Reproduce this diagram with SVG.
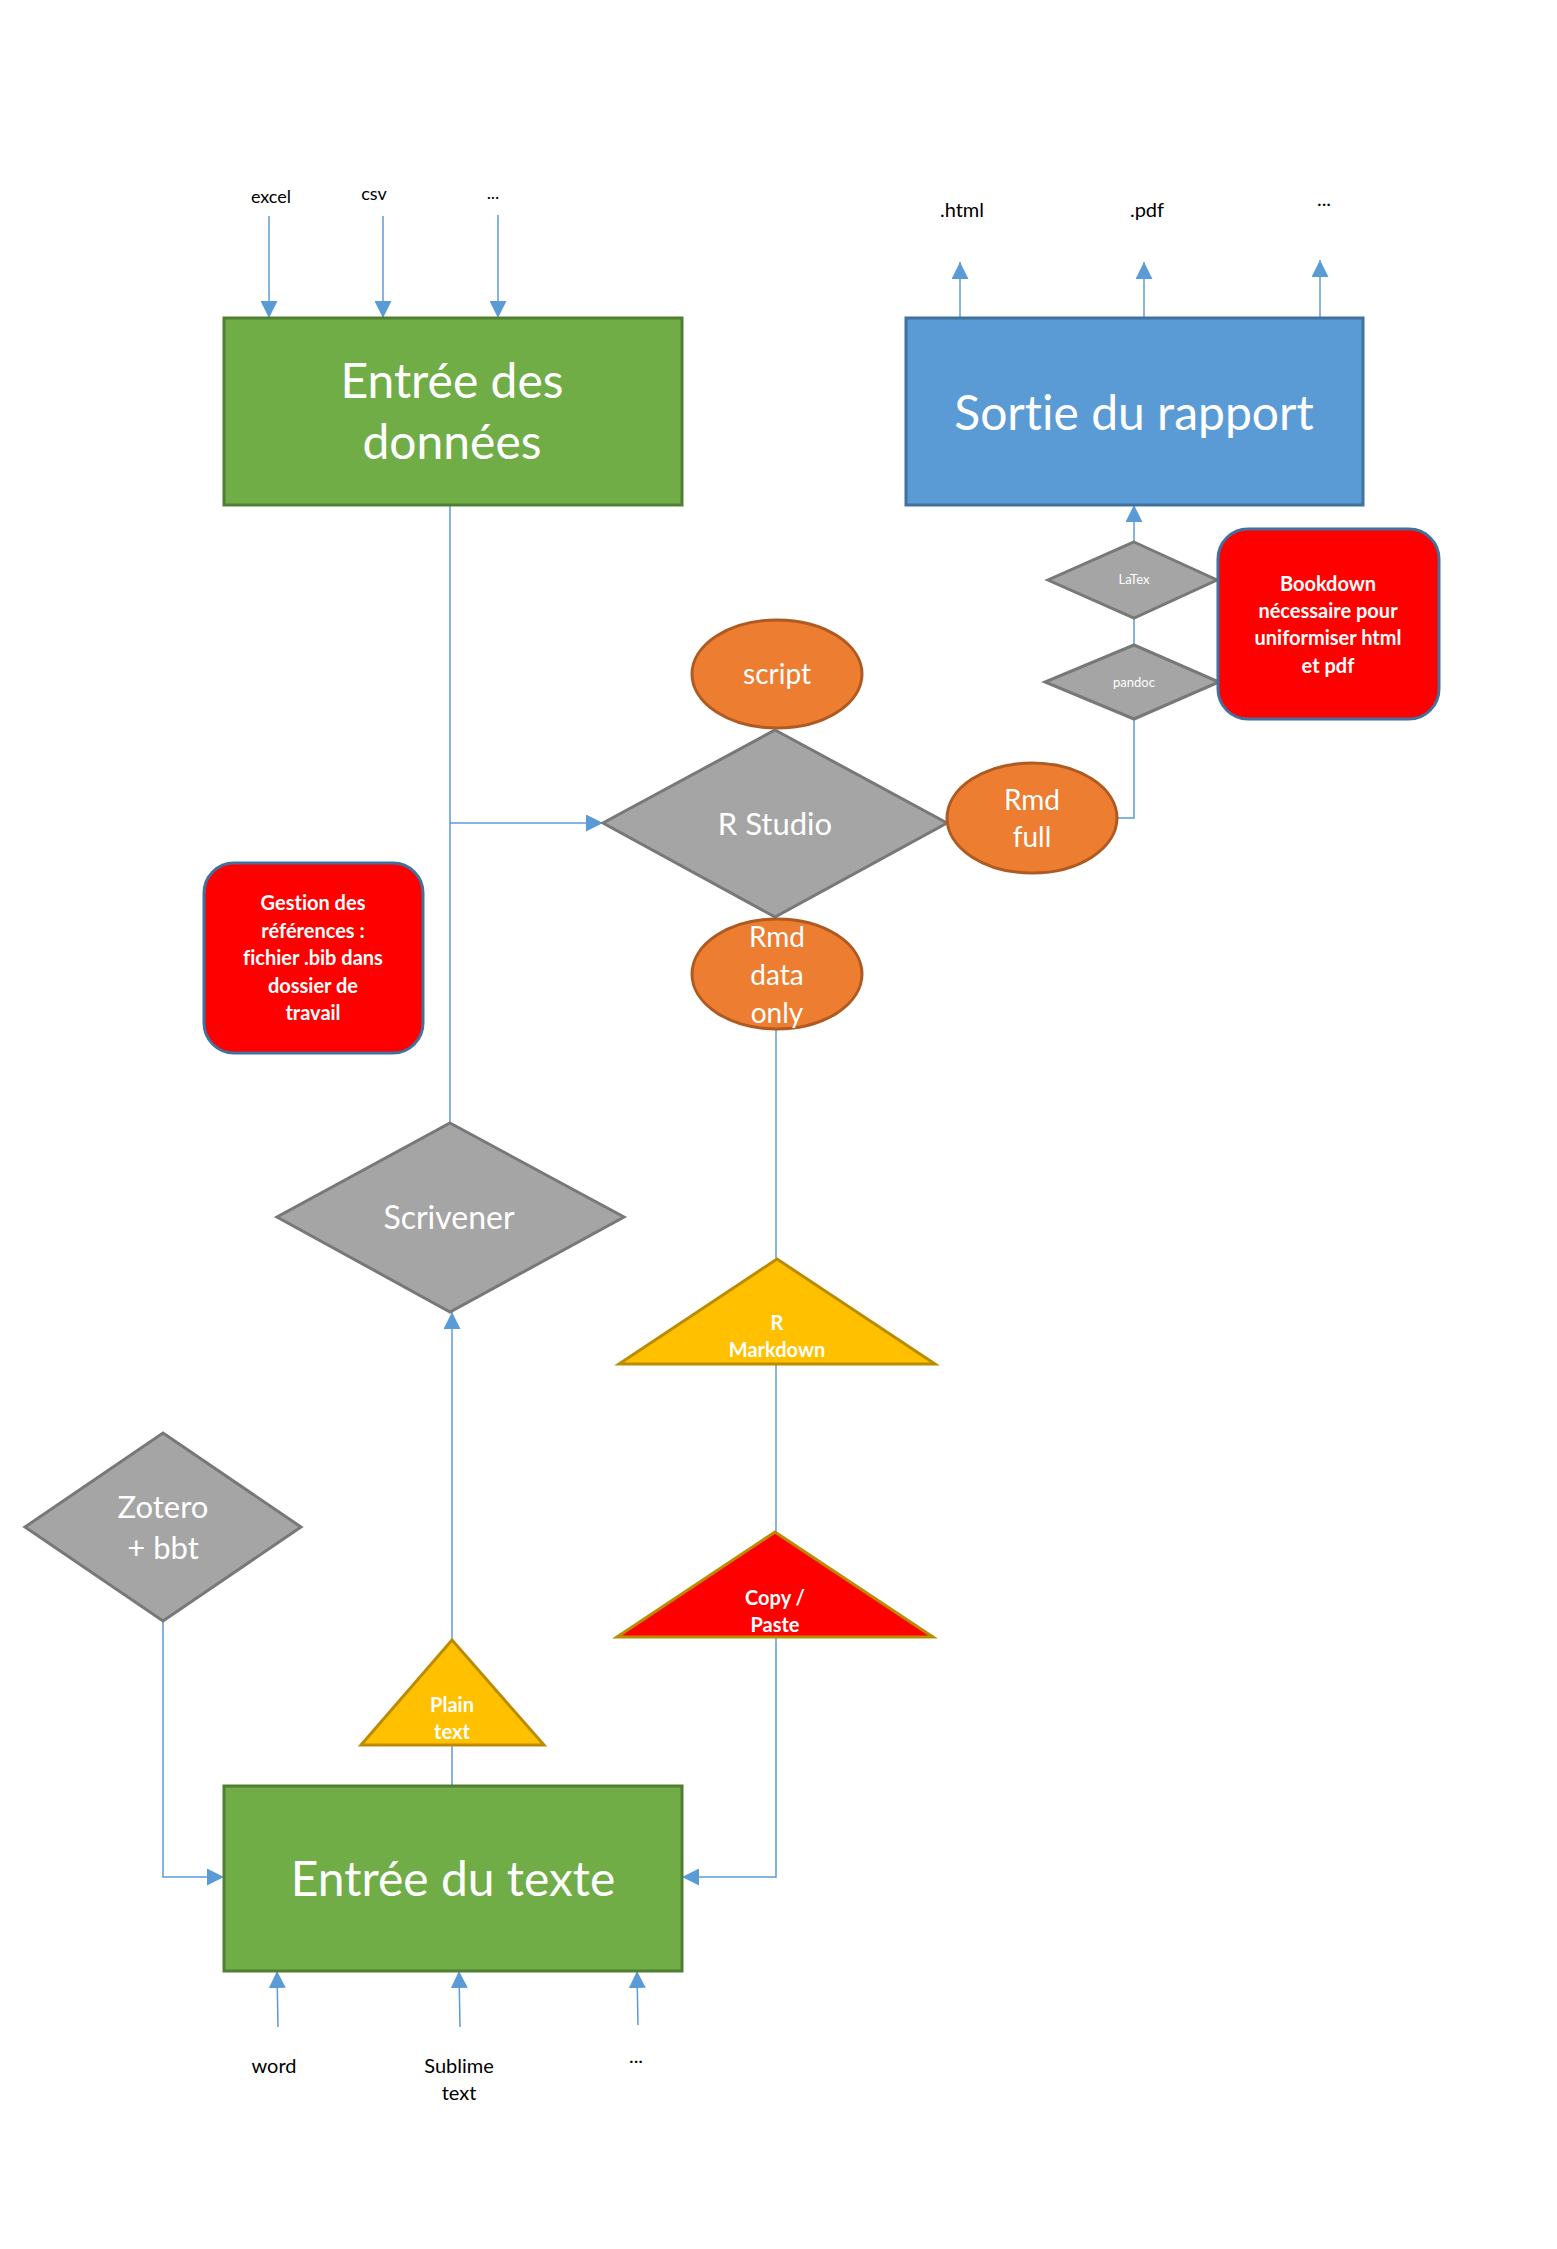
<svg xmlns="http://www.w3.org/2000/svg" width="1557" height="2249" viewBox="0 0 1557 2249">
<style>
text{font-family:Lato,"Open Sans","Liberation Sans",sans-serif;text-anchor:middle;font-variant-ligatures:none}
.w{fill:#fff}
.b{font-weight:bold}
.k{fill:#000}
.green{fill:#70AD47;stroke:#507E32;stroke-width:3}
.blue{fill:#5B9BD5;stroke:#41719C;stroke-width:3}
.gray{fill:#A5A5A5;stroke:#787878;stroke-width:3}
.orange{fill:#ED7D31;stroke:#AE5A21;stroke-width:3}
.red{fill:#FF0000;stroke:#41719C;stroke-width:3}
.yellow{fill:#FFC000;stroke:#BC8C00;stroke-width:3}
.redtri{fill:#FF0000;stroke:#BC8C00;stroke-width:3}
.c{fill:none;stroke:#5B9BD5;stroke-width:1.5}
.ca{fill:none;stroke:#5B9BD5;stroke-width:1.5;marker-end:url(#ah)}
</style>
<defs>
<marker id="ah" viewBox="0 0 10 10" refX="10" refY="5" markerUnits="userSpaceOnUse" markerWidth="17" markerHeight="17" orient="auto">
<path d="M0,0 L10,5 L0,10 z" fill="#5B9BD5"/>
</marker>
</defs>
<rect width="1557" height="2249" fill="#fff"/>

<g id="connectors">
<path class="ca" d="M269,216 L269,318"/>
<path class="ca" d="M383,216 L383,318"/>
<path class="ca" d="M498,215 L498,318"/>
<path class="ca" d="M960,318 L960,262"/>
<path class="ca" d="M1144,318 L1144,262"/>
<path class="ca" d="M1320,318 L1320,260"/>
<path class="ca" d="M1134,542 L1134,505"/>
<path class="c" d="M1134,645 L1134,618"/>
<path class="c" d="M1117,818 L1134,818 L1134,719"/>
<path class="c" d="M450,505 L450,1123"/>
<path class="ca" d="M450,823 L603,823"/>
<path class="c" d="M776,1029 L776,1259"/>
<path class="c" d="M776,1364 L776,1532"/>
<path class="ca" d="M776,1637 L776,1877 L682,1877"/>
<path class="ca" d="M163,1621 L163,1877 L224,1877"/>
<path class="c" d="M452,1786 L452,1745"/>
<path class="ca" d="M452,1640 L452,1312"/>
<path class="ca" d="M278,2027 L277,1971"/>
<path class="ca" d="M460,2027 L459,1971"/>
<path class="ca" d="M638,2025 L637,1971"/>
</g>

<g id="label-excel"><text class="k" x="271" y="203" font-size="18">excel</text></g>
<g id="label-csv"><text class="k" x="374" y="200" font-size="18">csv</text></g>
<g id="label-more-in"><text class="k" x="493" y="199" font-size="18">...</text></g>

<g id="label-html"><text class="k" x="962" y="217" font-size="20">.html</text></g>
<g id="label-pdf"><text class="k" x="1147" y="217" font-size="20">.pdf</text></g>
<g id="label-more-out"><text class="k" x="1324" y="206" font-size="20">...</text></g>

<g id="entree-donnees">
<rect class="green" x="224" y="318" width="458" height="187"/>
<text class="w" font-size="48"><tspan x="452" y="398">Entrée des</tspan><tspan x="452" y="459">données</tspan></text>
</g>

<g id="sortie-rapport">
<rect class="blue" x="906" y="318" width="457" height="187"/>
<text class="w" x="1134" y="430" font-size="48">Sortie du rapport</text>
</g>

<g id="latex">
<polygon class="gray" points="1134,542 1217,580 1134,618 1048,580"/>
<text class="w" x="1134" y="584" font-size="13">LaTex</text>
</g>

<g id="pandoc">
<polygon class="gray" points="1134,645 1219,682 1134,719 1045,682"/>
<text class="w" x="1134" y="687" font-size="13">pandoc</text>
</g>

<g id="bookdown">
<rect class="red" x="1218" y="529" width="221" height="190" rx="30" ry="30"/>
<text class="w b" font-size="20"><tspan x="1328" y="591">Bookdown</tspan><tspan x="1328" y="618">nécessaire pour</tspan><tspan x="1328" y="645">uniformiser html</tspan><tspan x="1328" y="673">et pdf</tspan></text>
</g>

<g id="script">
<ellipse class="orange" cx="777" cy="674" rx="85" ry="54"/>
<text class="w" x="777" y="684" font-size="28">script</text>
</g>

<g id="rstudio">
<polygon class="gray" points="775,730 947,823 775,917 603,823"/>
<text class="w" x="775" y="835" font-size="31">R Studio</text>
</g>

<g id="rmd-full">
<ellipse class="orange" cx="1032" cy="818" rx="85" ry="55"/>
<text class="w" font-size="28"><tspan x="1032" y="810">Rmd</tspan><tspan x="1032" y="847">full</tspan></text>
</g>

<g id="rmd-data-only">
<ellipse class="orange" cx="777" cy="974" rx="85" ry="55"/>
<text class="w" font-size="28"><tspan x="777" y="947">Rmd</tspan><tspan x="777" y="985">data</tspan><tspan x="777" y="1023">only</tspan></text>
</g>

<g id="gestion">
<rect class="red" x="204" y="863" width="219" height="190" rx="30" ry="30"/>
<text class="w b" font-size="20"><tspan x="313" y="910">Gestion des</tspan><tspan x="313" y="938">références :</tspan><tspan x="313" y="965">fichier .bib dans</tspan><tspan x="313" y="993">dossier de</tspan><tspan x="313" y="1020">travail</tspan></text>
</g>

<g id="scrivener">
<polygon class="gray" points="450,1123 624,1217 450,1312 277,1217"/>
<text class="w" x="449" y="1229" font-size="32">Scrivener</text>
</g>

<g id="r-markdown">
<polygon class="yellow" points="777,1259 935,1364 619,1364"/>
<text class="w b" font-size="20"><tspan x="777" y="1330">R</tspan><tspan x="777" y="1357">Markdown</tspan></text>
</g>

<g id="copy-paste">
<polygon class="redtri" points="775,1532 933,1637 617,1637"/>
<text class="w b" font-size="20"><tspan x="775" y="1605">Copy /</tspan><tspan x="775" y="1632">Paste</tspan></text>
</g>

<g id="zotero">
<polygon class="gray" points="163,1433 301,1527 163,1621 25,1527"/>
<text class="w" font-size="31"><tspan x="163" y="1518">Zotero</tspan><tspan x="163" y="1559">+ bbt</tspan></text>
</g>

<g id="plain-text">
<polygon class="yellow" points="452,1640 544,1745 361,1745"/>
<text class="w b" font-size="20"><tspan x="452" y="1712">Plain</tspan><tspan x="452" y="1739">text</tspan></text>
</g>

<g id="entree-texte">
<rect class="green" x="224" y="1786" width="458" height="185"/>
<text class="w" x="453" y="1896" font-size="48">Entrée du texte</text>
</g>

<g id="label-word"><text class="k" x="274" y="2073" font-size="20">word</text></g>
<g id="label-sublime"><text class="k" font-size="20"><tspan x="459" y="2073">Sublime</tspan><tspan x="459" y="2100">text</tspan></text></g>
<g id="label-more-text"><text class="k" x="636" y="2063" font-size="20">...</text></g>
</svg>
